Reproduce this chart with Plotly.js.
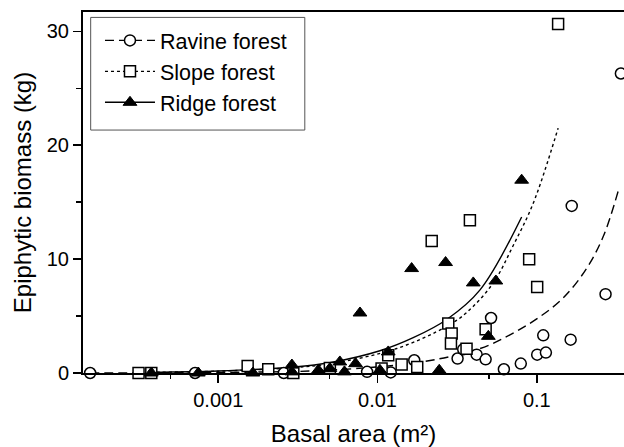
<!DOCTYPE html>
<html>
<head>
<meta charset="utf-8">
<script src="https://cdn.plot.ly/plotly-3.0.1.min.js"></script>
<style>html,body{margin:0;padding:0;background:#fff;}#chart{width:624px;height:447px;}</style>
</head>
<body>
<div id="chart"></div>
<script>
// Observed points (basal area m², epiphytic biomass kg)
var ravineX = [0.000157, 0.000715, 0.00258, 0.0086, 0.0121, 0.017, 0.0318, 0.0345, 0.0419, 0.0477, 0.0516, 0.0621, 0.0793, 0.1005, 0.114, 0.1097, 0.163, 0.270, 0.337, 0.1656];
var ravineY = [0, 0, 0, 0.1, 0.05, 1.12, 1.27, 2.08, 1.61, 1.2, 4.83, 0.33, 0.83, 1.61, 1.79, 3.31, 2.93, 6.92, 26.3, 14.67];

var slopeX = [0.000316, 0.00038, 0.00153, 0.00206, 0.00296, 0.00502, 0.0106, 0.01167, 0.01417, 0.01775, 0.02188, 0.038, 0.0278, 0.0292, 0.0289, 0.0362, 0.0477, 0.0895, 0.1005, 0.136];
var slopeY = [0, 0, 0.62, 0.33, 0, 0.44, 0.39, 1.56, 0.74, 0.53, 11.6, 13.42, 4.34, 3.46, 2.58, 2.14, 3.84, 9.99, 7.56, 30.64];

var ridgeX = [0.00038, 0.00075, 0.00165, 0.0029, 0.0029, 0.00425, 0.00502, 0.0058, 0.0062, 0.00728, 0.00776, 0.01035, 0.01167, 0.01637, 0.0244, 0.02674, 0.0399, 0.0496, 0.0553, 0.0803];
var ridgeY = [0, 0, 0, 0.7, 0.1, 0.24, 0.39, 0.97, 0.1, 0.82, 5.27, 0.24, 1.85, 9.17, 0.24, 9.70, 7.91, 3.22, 8.08, 16.93];

// Fitted curves
var ravineFitX = [0.000157, 0.001, 0.005, 0.0194, 0.044, 0.0678, 0.0998, 0.1466, 0.2056, 0.2614, 0.3245];
var ravineFitY = [0.01, 0.05, 0.25, 1.0, 2.15, 3.35, 4.75, 6.6, 9.2, 12.0, 16.0];

var slopeFitX = [0.000316, 0.001, 0.003, 0.005, 0.0132, 0.0272, 0.0362, 0.0532, 0.0711, 0.0949, 0.136];
var slopeFitY = [0.05, 0.16, 0.48, 0.8, 2.15, 4.1, 5.3, 7.9, 11.2, 14.9, 21.5];

var ridgeFitX = [0.00038, 0.001, 0.003, 0.005, 0.01035, 0.01675, 0.0272, 0.044, 0.0803];
var ridgeFitY = [0.07, 0.18, 0.53, 0.9, 1.95, 3.1, 4.7, 7.3, 13.7];

var seriesNames = ['Ravine forest', 'Slope forest', 'Ridge forest'];
var xTickVals = [0.001, 0.01, 0.1];
var xTickText = ['0.001', '0.01', '0.1'];
var xMinorVals = [0.0005, 0.005, 0.05];

var FONT = 'Liberation Sans, Arial, Helvetica, sans-serif';

function mk(symbol) {
  var tri = symbol === 'triangle-up';
  return {symbol: symbol, size: tri ? 12 : 11,
          color: tri ? '#000' : '#fff', line: {color: '#000', width: tri ? 1 : 1.5}};
}
function fitTrace(x, y, name, dash, symbol) {
  return {
    x: x, y: y, name: name, type: 'scatter', mode: 'lines+markers',
    line: {color: '#000', width: 1.4, dash: dash, shape: 'spline', smoothing: 1},
    marker: mk(symbol),
    selectedpoints: [],
    unselected: {marker: {opacity: 0}},
    cliponaxis: false,
    hoverinfo: 'skip'
  };
}
function ptTrace(x, y, name, symbol) {
  return {
    x: x, y: y, name: name, type: 'scatter', mode: 'markers', showlegend: false,
    marker: mk(symbol),
    cliponaxis: false
  };
}

var data = [
  fitTrace(ravineFitX, ravineFitY, seriesNames[0], '9px,5px', 'circle'),
  fitTrace(slopeFitX, slopeFitY, seriesNames[1], 'dot', 'square'),
  fitTrace(ridgeFitX, ridgeFitY, seriesNames[2], 'solid', 'triangle-up'),
  ptTrace(ravineX, ravineY, seriesNames[0], 'circle'),
  ptTrace(slopeX, slopeY, seriesNames[1], 'square'),
  ptTrace(ridgeX, ridgeY, seriesNames[2], 'triangle-up')
];

var layout = {
  width: 624, height: 447,
  margin: {l: 83, r: 0, t: 12, b: 74},
  paper_bgcolor: '#fff', plot_bgcolor: '#fff',
  font: {family: FONT, color: '#000'},
  showlegend: true,
  legend: {
    x: 0.0314, y: 0.978, xanchor: 'left', yanchor: 'top',
    bgcolor: 'rgba(0,0,0,0)', borderwidth: 0,
    itemwidth: 50,
    font: {family: FONT, size: 21.5, color: '#000'},
    tracegroupgap: 0
  },
  shapes: [{
    type: 'rect', xref: 'paper', yref: 'paper', layer: 'below',
    x0: 0.0142, x1: 0.410, y0: 0.673, y1: 0.985,
    line: {color: '#555', width: 1}, fillcolor: '#fff'
  }],
  xaxis: {
    type: 'log',
    range: [Math.log10(0.0001416), Math.log10(0.3525)],
    tickmode: 'array', tickvals: xTickVals, ticktext: xTickText,
    ticks: 'outside', ticklen: 8, tickwidth: 1.5, tickcolor: '#000',
    minor: {tickmode: 'array', tickvals: xMinorVals, ticks: 'outside', ticklen: 4, tickwidth: 1.5, tickcolor: '#000', showgrid: false},
    showline: true, linecolor: '#000', linewidth: 2, mirror: true,
    showgrid: false, zeroline: false,
    tickfont: {family: FONT, size: 20, color: '#000'},
    title: {text: 'Basal area (m²)', font: {family: FONT, size: 24, color: '#000'}, standoff: 16}
  },
  yaxis: {
    range: [0, 31.7],
    tickmode: 'linear', tick0: 0, dtick: 10,
    ticks: 'outside', ticklen: 8, tickwidth: 1.5, tickcolor: '#000',
    minor: {tick0: 0, dtick: 5, ticks: 'outside', ticklen: 5, tickwidth: 1.5, tickcolor: '#000', showgrid: false},
    showline: true, linecolor: '#000', linewidth: 2,
    showgrid: false, zeroline: false,
    tickfont: {family: FONT, size: 20, color: '#000'},
    title: {text: 'Epiphytic biomass (kg)', font: {family: FONT, size: 24, color: '#000'}, standoff: 8}
  }
};

Plotly.newPlot('chart', data, layout, {displayModeBar: false, staticPlot: true});
</script>
</body>
</html>
